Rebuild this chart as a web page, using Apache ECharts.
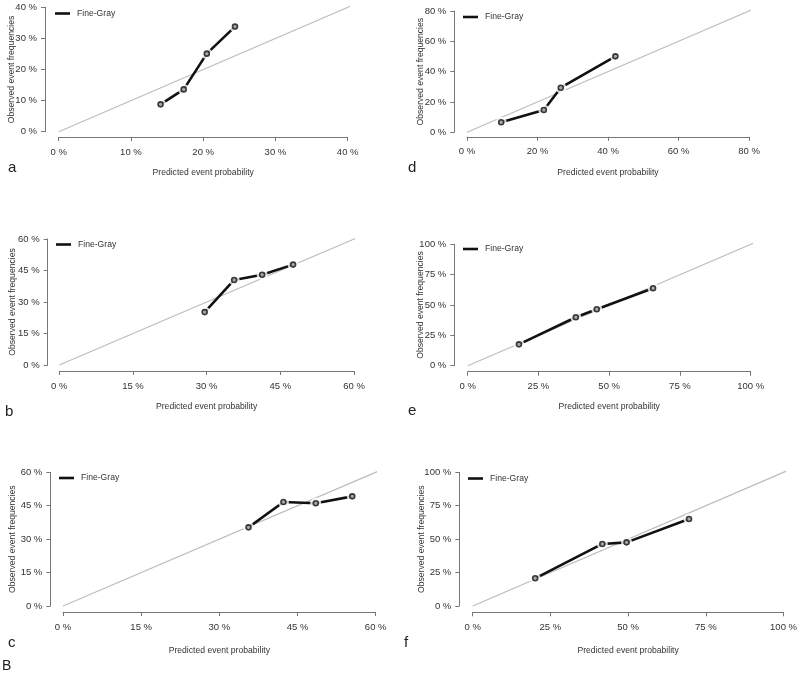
<!DOCTYPE html>
<html>
<head>
<meta charset="utf-8">
<script src="https://cdn.jsdelivr.net/npm/echarts@6/dist/echarts.min.js"></script>
<style>
html,body{margin:0;padding:0;background:#fff;}
#chart{width:800px;height:673px;}
</style>
</head>
<body>
<div id="chart"></div>
<script>
// ---- data ----
const panelLabels = ['a', 'b', 'c', 'd', 'e', 'f'];
const seriesName = 'Fine-Gray';
const xTitle = 'Predicted event probability';
const yTitle = 'Observed event frequencies';
const figureLabel = 'B';

const predA = [14.1, 17.3, 20.5, 24.4];
const obsA  = [8.8, 13.6, 25.1, 33.8];
const predB = [29.6, 35.6, 41.3, 47.6];
const obsB  = [25.2, 40.5, 43.0, 47.8];
const predC = [35.6, 42.3, 48.5, 55.5];
const obsC  = [35.3, 46.7, 46.1, 49.2];
const predD = [9.7, 21.8, 26.6, 42.1];
const obsD  = [6.6, 14.7, 29.4, 50.1];
const predE = [18.1, 38.2, 45.6, 65.5];
const obsE  = [17.6, 39.9, 46.5, 63.8];
const predF = [20.1, 41.7, 49.5, 69.6];
const obsF  = [20.7, 46.4, 47.6, 65.1];

const axisMax = [40, 60, 60, 80, 100, 100];
const axisInterval = [10, 15, 15, 20, 25, 25];

const preds = [predA, predB, predC, predD, predE, predF];
const obss = [obsA, obsB, obsC, obsD, obsE, obsF];

// ---- layout (pixels) ----
const layout = [
  {l: 58.7, t: 7.3,   w: 289,   h: 124.4, yo: 13.7, xo: 5.5, lgL: 55,  lgT: 9,    lx: 8,   ly: 169, xg: 31, yg: 29},
  {l: 59.3, t: 239,   w: 294.7, h: 126,   yo: 11.6, xo: 6,   lgL: 56,  lgT: 240,  lx: 5,   ly: 413, xg: 31, yg: 31},
  {l: 63,   t: 472.3, w: 312.7, h: 133.7, yo: 12.7, xo: 6,   lgL: 59,  lgT: 473.5, lx: 8,  ly: 644, xg: 34, yg: 33},
  {l: 467,  t: 11,    w: 282,   h: 121.3, yo: 12.7, xo: 4.5, lgL: 463, lgT: 12.5, lx: 408, ly: 169, xg: 31, yg: 29},
  {l: 467.7,t: 244.3, w: 283,   h: 121.4, yo: 13.4, xo: 6,   lgL: 463, lgT: 244.5, lx: 408, ly: 412, xg: 30, yg: 29},
  {l: 472.7,t: 472.3, w: 313,   h: 133.7, yo: 13.4, xo: 6.3, lgL: 468, lgT: 474,  lx: 404, ly: 644, xg: 34, yg: 33}
];

const FONT = '"Liberation Sans", Arial, sans-serif';
const TEXT = '#333333';
const AXIS = '#777777';

const grids = [], xAxes = [], yAxes = [], series = [], legends = [], graphics = [];

layout.forEach((L, i) => {
  const M = axisMax[i];
  grids.push({left: L.l, top: L.t, width: L.w, height: L.h, containLabel: false});
  const axisCommon = {
    type: 'value', min: 0, max: M, interval: axisInterval[i],
    gridIndex: i,
    axisLine: {show: true, onZero: false, lineStyle: {color: AXIS, width: 1}},
    axisTick: {show: true, length: 4, lineStyle: {color: AXIS}},
    splitLine: {show: false},
    axisLabel: {formatter: '{value} %', color: TEXT, fontSize: 9.5, fontFamily: FONT, margin: 8},
    nameLocation: 'middle',
    nameMoveOverlap: false,
    nameTextStyle: {color: TEXT, fontSize: 8.6, fontFamily: FONT}
  };
  xAxes.push(Object.assign({}, axisCommon, {
    position: 'bottom', offset: L.xo, name: xTitle, nameGap: L.xg,
    axisLabel: Object.assign({}, axisCommon.axisLabel, {margin: 10})
  }));
  yAxes.push(Object.assign({}, axisCommon, {
    position: 'left', offset: L.yo, name: yTitle, nameGap: L.yg
  }));
  const dmax = M * 1.04;
  series.push({
    type: 'line', name: 'diag' + i, xAxisIndex: i, yAxisIndex: i,
    data: [[0, 0], [dmax, dmax]], clip: false, symbol: 'none', silent: true,
    lineStyle: {color: '#bdbdbd', width: 1.2}, z: 1, animation: false
  });
  const pts = preds[i].map((x, k) => [x, obss[i][k]]);
  series.push({
    type: 'line', name: seriesName, xAxisIndex: i, yAxisIndex: i,
    data: pts, showSymbol: false, symbol: 'none',
    itemStyle: {color: '#111'},
    lineStyle: {color: '#111', width: 2.6}, z: 2, animation: false
  });
  series.push({
    type: 'scatter', name: 'halo' + i, xAxisIndex: i, yAxisIndex: i,
    data: pts, symbol: 'circle', symbolSize: 11, silent: true,
    itemStyle: {color: '#fff'}, z: 3, animation: false
  });
  series.push({
    type: 'scatter', name: 'pt' + i, xAxisIndex: i, yAxisIndex: i,
    data: pts, symbol: 'circle', symbolSize: 5, silent: true,
    itemStyle: {color: '#9a9a9a', borderColor: '#111', borderWidth: 1.6}, z: 4, animation: false
  });
  legends.push({
    data: [seriesName], left: L.lgL, top: L.lgT, padding: 0,
    icon: 'rect', itemWidth: 15, itemHeight: 2.6, itemGap: 5,
    selectedMode: false,
    textStyle: {color: TEXT, fontSize: 8.6, fontFamily: FONT, padding: [0, 0, 0, 2]}
  });
  graphics.push({
    type: 'text', left: L.lx, top: L.ly - 9,
    style: {text: panelLabels[i], fontSize: 15, fontFamily: FONT, fill: '#222'}
  });
});

graphics.push({
  type: 'text', left: 2, top: 659,
  style: {text: figureLabel, fontSize: 14, fontFamily: FONT, fill: '#222'}
});

const chart = echarts.init(document.getElementById('chart'), null, {renderer: 'canvas'});
chart.setOption({
  backgroundColor: '#fff',
  animation: false,
  grid: grids,
  xAxis: xAxes,
  yAxis: yAxes,
  legend: legends,
  series: series,
  graphic: graphics
});
</script>
</body>
</html>
